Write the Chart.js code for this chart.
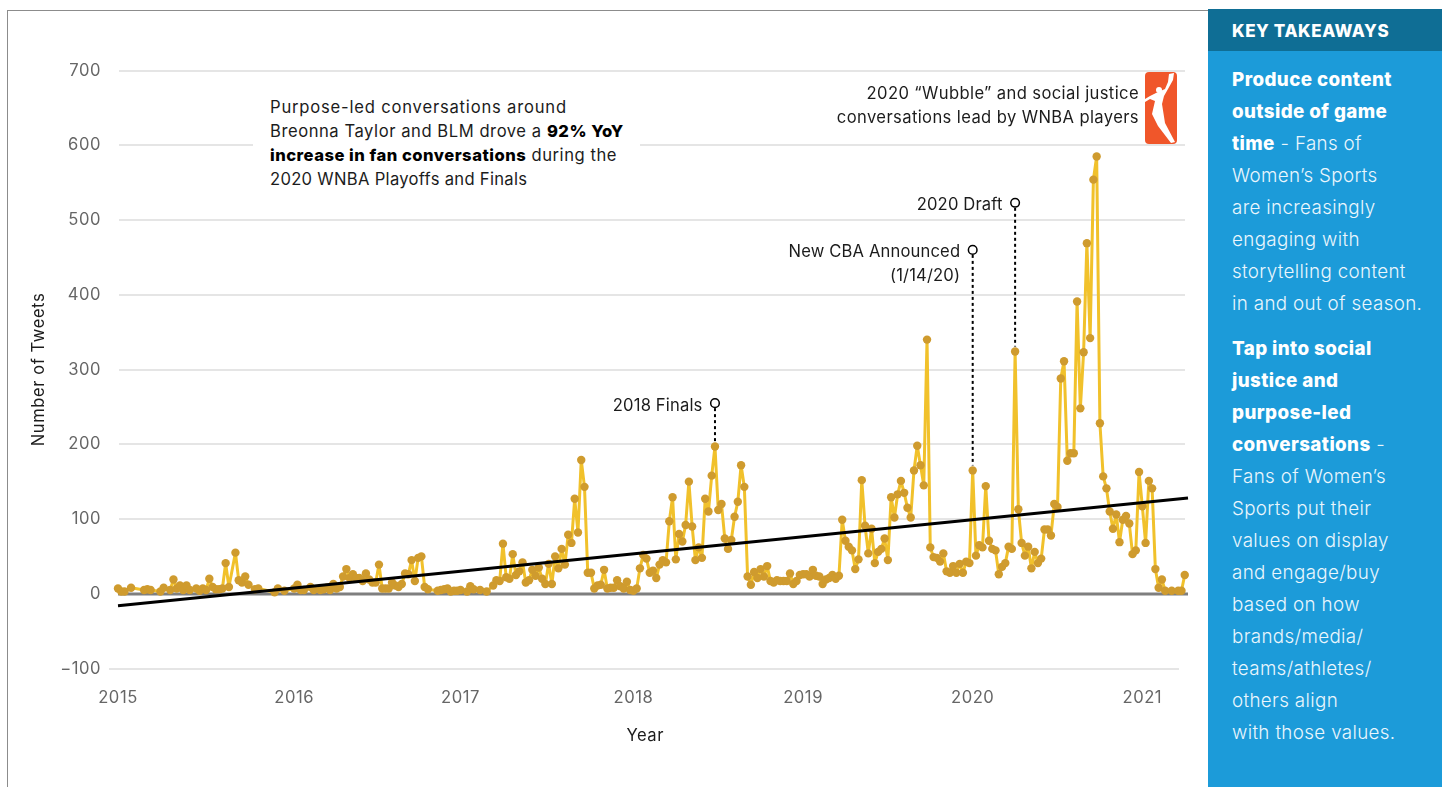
<!DOCTYPE html>
<html>
<head>
<meta charset="utf-8">
<script src="https://cdn.jsdelivr.net/npm/chart.js@4"></script>
<style>
  html, body { margin: 0; padding: 0; background: #fff; width: 1442px; height: 787px; overflow: hidden; font-family: Inter, sans-serif; }
  #frame { position: absolute; left: 7px; top: 10px; width: 1201px; height: 777px; border-left: 1.5px solid #8c8c8c; border-top: 1.5px solid #8c8c8c; box-sizing: border-box; }
  #chartBox { position: absolute; left: 0; top: 0; width: 1442px; height: 787px; }
  #note { position: absolute; left: 253px; top: 95px; width: 387px; height: 96px; background: #fff; padding-left: 17px; box-sizing: border-box; font-size: 16.6px; line-height: 24px; letter-spacing: 0.55px; color: #1c1c1c; white-space: nowrap; }
  #note b { font-weight: 800; color: #000; letter-spacing: 0.5px; }
  #note .wide { letter-spacing: 0.8px; }
  #note .tight { letter-spacing: 0.3px; }
  #wubble { position: absolute; right: 303px; top: 80.5px; text-align: right; font-size: 16.6px; line-height: 24px; letter-spacing: 0.38px; color: #1c1c1c; white-space: nowrap; }
  #logo { position: absolute; left: 1145px; top: 72px; width: 32px; height: 72px; }
  #panel { position: absolute; left: 1208px; top: 9px; width: 234px; height: 778px; background: #1c9bd9; color: #fff; }
  #panel h2 { margin: 0; height: 42px; line-height: 44px; background: #0f6e95; font-size: 17px; font-weight: 800; padding-left: 24px; letter-spacing: 0.6px; }
  #panel p { margin: 13px 0 0 24px; font-size: 18.8px; line-height: 32px; letter-spacing: 0.35px; white-space: nowrap; color: #eaf6fd; font-weight: 300; }
  #panel p + p { margin-top: 13px; }
  #panel b { font-weight: 800; color: #fff; letter-spacing: 0.4px; }
</style>
</head>
<body>
<div id="frame"></div>
<div id="chartBox"><canvas id="tweets" width="1442" height="787"></canvas></div>
<div id="note"><span class="wide">Purpose-led conversations around</span><br>Breonna Taylor and BLM drove a <b>92% YoY</b><br><b>increase in fan conversations</b> during the<br><span class="tight">2020 WNBA Playoffs and Finals</span></div>
<div id="wubble">2020 “Wubble” and social justice<br>conversations lead by WNBA players</div>
<svg id="logo" viewBox="0 0 32 72">
  <rect x="0" y="0" width="32" height="72" rx="4" fill="#f0562a"/>
  <path d="M29 1 L28 8 L23 17 L19 24 L17 32 L20 51 L30 70 L26 71 L13 54 L7 42 L10 29 L5 27 L0 30 L0 27 L5 24 L11 21 L20 17 L23 10 L24 2 Z" fill="#fff"/>
  <circle cx="14" cy="18" r="3" fill="#fff"/>
</svg>
<div id="panel">
  <h2>KEY TAKEAWAYS</h2>
  <p><b>Produce content</b><br><b>outside of game</b><br><b>time</b> - Fans of<br>Women’s Sports<br>are increasingly<br>engaging with<br>storytelling content<br>in and out of season.</p>
  <p><b>Tap into social</b><br><b>justice and</b><br><b>purpose-led</b><br><b>conversations</b> -<br>Fans of Women’s<br>Sports put their<br>values on display<br>and engage/buy<br>based on how<br>brands/media/<br>teams/athletes/<br>others align<br>with those values.</p>
</div>
<script>
// Weekly tweet counts, Jan 2015 onward; null marks a week with no recorded point.
const weeklyTweets = [
  7,3,3,null,8,null,null,null,5,6,5,null,null,3,8,null,5,19,7,11,5,11,5,null,7,4,7,5,20,9,6,6,7,41,9,null,55,18,15,23,12,null,6,7,null,null,null,null,2,7,null,4,
  null,null,7,12,5,5,null,9,5,null,5,6,8,5,13,7,9,23,33,21,26,21,21,17,27,19,15,15,39,7,7,7,15,11,9,13,27,26,45,17,48,50,9,6,null,null,4,5,6,7,3,4,4,
  5,null,3,10,6,null,5,null,3,null,11,18,17,67,22,20,53,25,30,42,15,18,32,24,35,20,13,40,13,50,34,60,39,79,68,127,82,179,143,28,28,7,11,12,32,7,8,8,18,10,7,16,5,4,7,
  34,52,47,28,31,21,39,45,42,97,129,46,80,70,92,150,90,45,62,48,127,110,158,197,112,120,74,60,72,103,123,172,143,23,12,29,21,33,23,37,17,15,18,17,17,17,27,13,17,25,26,26,23,32,24,
  23,13,19,21,25,20,24,99,71,63,58,33,46,152,91,54,87,41,56,60,74,45,129,102,133,151,135,115,102,165,198,172,145,340,62,49,48,43,54,30,28,37,28,40,28,43,41,
  165,51,65,62,144,71,60,58,26,36,41,63,60,324,113,68,51,63,34,56,41,47,86,86,78,120,116,288,311,178,188,188,391,248,323,469,342,554,585,228,157,141,110,87,106,69,99,104,94,53,58,
  163,117,68,151,141,33,8,19,4,null,4,null,4,4,25
];
// Fitted trend: value at the first week and at the end of the axis.
const trendStart = -16;
const trendEnd = 128;
const yearLabels = ['2015','2016','2017','2018','2019','2020','2021'];
const yearStartIndex = [0,54,105,158,210,262,314];
const yTickMin = -100;
const yTickMax = 700;
const yTickStep = 100;
// Callouts: label lines, week index of the marked peak, height of the open circle in tweets.
const calloutLines = [['2018 Finals'],['New CBA Announced','(1/14/20)'],['2020 Draft']];
const calloutWeek = [183,262,275];
const calloutHeight = [255,460,523];

const labelCount = weeklyTweets.length + 1;
const categories = Array.from({length: labelCount}, (_, i) => {
  const k = yearStartIndex.indexOf(i);
  return k >= 0 ? yearLabels[k] : 'w' + i;
});
const trendSeries = Array.from({length: labelCount}, (_, i) =>
  i === 0 ? trendStart : i === labelCount - 1 ? trendEnd : null);

// Horizontal rules per y tick: the baseline is heavier and the lowest rule sits slightly left.
const gridPlugin = {
  id: 'tickRules',
  beforeDatasetsDraw(chart) {
    const {ctx, scales: {x, y}} = chart;
    ctx.save();
    y.ticks.forEach(t => {
      const py = Math.round(y.getPixelForValue(t.value));
      const isZero = t.value === 0;
      const isLowest = t.value === yTickMin;
      ctx.beginPath();
      ctx.lineWidth = isZero ? 3 : 1.5;
      ctx.strokeStyle = isZero ? '#7f7f7f' : '#dcdcdc';
      ctx.moveTo(isLowest ? x.left - 9 : x.left + (isZero ? 0 : 1), py);
      ctx.lineTo(isLowest ? x.right - 9 : x.right - (isZero ? 0 : 3), py);
      ctx.stroke();
    });
    ctx.restore();
  }
};

const calloutPlugin = {
  id: 'callouts',
  beforeDraw(chart) {
    // wider tracking for the axis text the chart paints
    chart.ctx.letterSpacing = '0.55px';
  },
  afterDatasetsDraw(chart) {
    const {ctx, scales: {x, y}} = chart;
    ctx.save();
    ctx.letterSpacing = '0.15px';
    calloutWeek.forEach((week, n) => {
      const px = x.getPixelForValue(week);
      const circleY = y.getPixelForValue(calloutHeight[n]);
      const peakY = y.getPixelForValue(weeklyTweets[week]);
      ctx.beginPath();
      ctx.setLineDash([3, 3]);
      ctx.lineWidth = 2;
      ctx.strokeStyle = '#000';
      ctx.moveTo(px, circleY + 5);
      ctx.lineTo(px, peakY - 5);
      ctx.stroke();
      ctx.setLineDash([]);
      ctx.beginPath();
      ctx.lineWidth = 1.5;
      ctx.fillStyle = '#fff';
      ctx.arc(px, circleY, 4.3, 0, Math.PI * 2);
      ctx.fill();
      ctx.stroke();
      ctx.fillStyle = '#1c1c1c';
      ctx.font = '16.6px Inter';
      ctx.textAlign = 'right';
      ctx.textBaseline = 'middle';
      calloutLines[n].forEach((line, k) => ctx.fillText(line, px - 12.5, circleY + 2.5 + k * 24));
    });
    ctx.restore();
  }
};

new Chart(document.getElementById('tweets'), {
  type: 'line',
  data: {
    labels: categories,
    datasets: [
      { label: 'Trend', data: trendSeries, spanGaps: true, borderColor: '#000', borderWidth: 3, pointRadius: 0, tension: 0, clip: false },
      { label: 'Number of Tweets', data: weeklyTweets, spanGaps: true, borderColor: '#f1c12b', borderWidth: 3, borderJoinStyle: 'round', pointRadius: 4.2, pointBorderWidth: 0, pointBackgroundColor: '#cf9b2e', tension: 0, clip: false }
    ]
  },
  options: {
    responsive: false,
    animation: false,
    layout: { padding: { top: 70.5, right: 254, left: 0, bottom: 0 } },
    plugins: { legend: { display: false }, tooltip: { enabled: false }, title: { display: false } },
    scales: {
      x: {
        type: 'category',
        offset: false,
        afterFit: s => { s.height = 118.5; },
        afterBuildTicks: s => { s.ticks = s.ticks.filter(t => yearStartIndex.includes(t.value)); },
        grid: { display: false },
        border: { display: false },
        ticks: {
          autoSkip: false, maxRotation: 0, padding: 12, color: '#666',
          font: { family: 'Inter', size: 16.6 },
          callback(value) { return this.getLabelForValue(value); }
        },
        // trailing spaces shift the centred title left of the axis midpoint
        title: { display: true, text: 'Year   ', color: '#1c1c1c', font: { family: 'Inter', size: 16.6 }, padding: { top: 0, bottom: 41 } }
      },
      y: {
        min: yTickMin, max: yTickMax,
        afterFit: s => { s.width = 118; },
        border: { display: false },
        grid: { display: false, drawTicks: false },
        ticks: {
          stepSize: yTickStep, padding: 17, color: '#666',
          font: { family: 'Inter', size: 16.6 },
          callback: v => String(v).replace('-', '−')
        },
        title: { display: true, text: 'Number of Tweets', color: '#1c1c1c', font: { family: 'Inter', size: 16.6 }, padding: { top: 29, bottom: 0 } }
      }
    }
  },
  plugins: [gridPlugin, calloutPlugin]
});
</script>
</body>
</html>
